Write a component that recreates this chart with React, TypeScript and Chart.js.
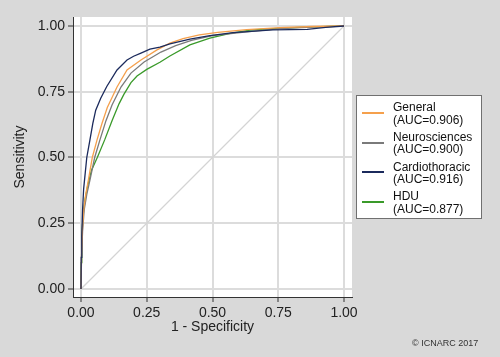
import React, { useEffect, useRef } from "react";
import { Chart, registerables } from "chart.js";

Chart.register(...registerables);

const FONT = "'Liberation Sans', Arial, sans-serif";

const tickValues = [0, 0.25, 0.5, 0.75, 1];

const seriesLabels = ["General", "Neurosciences", "Cardiothoracic", "HDU"];
const aucLabels = ["(AUC=0.906)", "(AUC=0.900)", "(AUC=0.916)", "(AUC=0.877)"];
const seriesColors = ["#f5a04c", "#7a7a7a", "#1b2a5c", "#3a9a2a"];

const generalFpr = [0, 0.002, 0.005, 0.01, 0.018, 0.028, 0.043, 0.061, 0.08, 0.1, 0.137, 0.175, 0.228, 0.289, 0.338, 0.388, 0.45, 0.52, 0.63, 0.757, 0.88, 1];
const generalTpr = [0, 0.12, 0.22, 0.3, 0.36, 0.414, 0.5, 0.567, 0.63, 0.69, 0.768, 0.833, 0.871, 0.909, 0.935, 0.952, 0.966, 0.976, 0.986, 0.994, 0.998, 1];

const neuroFpr = [0, 0.002, 0.006, 0.012, 0.022, 0.034, 0.052, 0.072, 0.095, 0.118, 0.152, 0.19, 0.24, 0.304, 0.36, 0.42, 0.5, 0.63, 0.757, 0.88, 1];
const neuroTpr = [0, 0.12, 0.22, 0.3, 0.36, 0.414, 0.5, 0.567, 0.64, 0.7, 0.768, 0.821, 0.863, 0.901, 0.925, 0.945, 0.963, 0.978, 0.99, 0.996, 1];

const cardioFpr = [0, 0.001, 0.003, 0.006, 0.01, 0.015, 0.022, 0.034, 0.045, 0.056, 0.075, 0.098, 0.137, 0.175, 0.2, 0.228, 0.262, 0.3, 0.338, 0.414, 0.49, 0.578, 0.73, 0.86, 0.93, 1];
const cardioTpr = [0, 0.12, 0.2, 0.3, 0.38, 0.43, 0.5, 0.567, 0.63, 0.68, 0.725, 0.77, 0.833, 0.871, 0.885, 0.897, 0.912, 0.92, 0.932, 0.95, 0.963, 0.975, 0.985, 0.987, 0.995, 1];

const hduFpr = [0, 0.001, 0.003, 0.008, 0.015, 0.025, 0.04, 0.062, 0.09, 0.118, 0.145, 0.163, 0.19, 0.213, 0.25, 0.3, 0.338, 0.414, 0.49, 0.567, 0.643, 0.73, 0.85, 1];
const hduTpr = [0, 0.1, 0.2, 0.28, 0.338, 0.39, 0.452, 0.5, 0.567, 0.64, 0.705, 0.74, 0.785, 0.81, 0.835, 0.862, 0.886, 0.928, 0.954, 0.972, 0.984, 0.99, 0.996, 1];

const refLine = [0, 1];

const toPoints = (xs: number[], ys: number[]) => xs.map((x, i) => ({ x, y: ys[i] }));

const bgPlugin = {
  id: "bgPlugin",
  beforeDraw(chart: any) {
    const { ctx, chartArea } = chart;
    ctx.save();
    ctx.fillStyle = "#d9d9d9";
    ctx.fillRect(0, 0, chart.width, chart.height);
    ctx.fillStyle = "#ffffff";
    ctx.fillRect(chartArea.left, chartArea.top, chartArea.right - chartArea.left, chartArea.bottom - chartArea.top);
    ctx.restore();
  },
};

const legendPlugin = {
  id: "customLegend",
  afterDraw(chart: any) {
    const { ctx } = chart;
    ctx.save();
    ctx.fillStyle = "#ffffff";
    ctx.fillRect(356, 95, 126, 124);
    ctx.strokeStyle = "#707070";
    ctx.lineWidth = 1;
    ctx.strokeRect(356.5, 95.5, 125, 123);
    ctx.font = `12px ${FONT}`;
    ctx.textBaseline = "middle";
    ctx.textAlign = "left";
    seriesLabels.forEach((lab, i) => {
      const y0 = 108 + i * 29.7;
      ctx.strokeStyle = seriesColors[i];
      ctx.lineWidth = 2;
      ctx.beginPath();
      ctx.moveTo(362, Math.round(y0 + 5));
      ctx.lineTo(384, Math.round(y0 + 5));
      ctx.stroke();
      ctx.fillStyle = "#111111";
      ctx.fillText(lab, 393, y0);
      ctx.fillText(aucLabels[i], 393, y0 + 12.3);
    });
    ctx.font = `9px ${FONT}`;
    ctx.fillStyle = "#333333";
    ctx.fillText("© ICNARC 2017", 412, 344);
    ctx.restore();
  },
};

export default function App() {
  const ref = useRef<HTMLCanvasElement | null>(null);

  useEffect(() => {
    if (!ref.current) return;
    const mkScale = (isX: boolean, title: string) => ({
      type: "linear",
      min: -0.0304,
      max: isX ? 1.0304 : 1.0342,
      afterBuildTicks: (scale: any) => {
        scale.ticks = tickValues.map((v) => ({ value: v }));
      },
      afterFit: (scale: any) => {
        if (isX) scale.height = 60;
        else scale.width = 73;
      },
      grid: {
        color: "#dcdcdc",
        lineWidth: 2,
        tickColor: "#333333",
        tickWidth: 1,
        tickLength: 5,
        drawTicks: true,
      },
      border: { display: true, color: "#333333", width: 1 },
      ticks: {
        color: "#222222",
        font: { family: FONT, size: 14 },
        padding: 3,
        autoSkip: false,
        maxRotation: 0,
        callback: (v: any) => Number(v).toFixed(2),
      },
      title: {
        display: true,
        text: title,
        color: "#222222",
        font: { family: FONT, size: 14 },
        padding: isX ? { top: 0, bottom: 21 } : { top: 12, bottom: 0 },
      },
    });

    const lineDs = (i: number, xs: number[], ys: number[]) => ({
      label: seriesLabels[i],
      data: toPoints(xs, ys),
      borderColor: seriesColors[i],
      backgroundColor: seriesColors[i],
      borderWidth: 1.3,
      pointRadius: 0,
      tension: 0,
      fill: false,
    });

    const chart = new Chart(ref.current, {
      type: "line",
      data: {
        datasets: [
          lineDs(2, cardioFpr, cardioTpr),
          lineDs(0, generalFpr, generalTpr),
          lineDs(1, neuroFpr, neuroTpr),
          lineDs(3, hduFpr, hduTpr),
          {
            label: "reference",
            data: toPoints(refLine, refLine),
            borderColor: "#d4d4d4",
            borderWidth: 1.3,
            pointRadius: 0,
            fill: false,
          },
        ],
      } as any,
      options: {
        responsive: false,
        animation: false,
        devicePixelRatio: 1,
        layout: { padding: { left: 0, right: 148, top: 17, bottom: 0 } },
        plugins: { legend: { display: false }, tooltip: { enabled: false } },
        scales: {
          x: mkScale(true, "1 - Specificity") as any,
          y: mkScale(false, "Sensitivity") as any,
        },
      },
      plugins: [bgPlugin, legendPlugin],
    });
    return () => chart.destroy();
  }, []);

  return (
    <div style={{ position: "absolute", left: 0, top: 0, width: 500, height: 357 }}>
      <canvas ref={ref} width={500} height={357} style={{ display: "block" }} />
    </div>
  );
}
